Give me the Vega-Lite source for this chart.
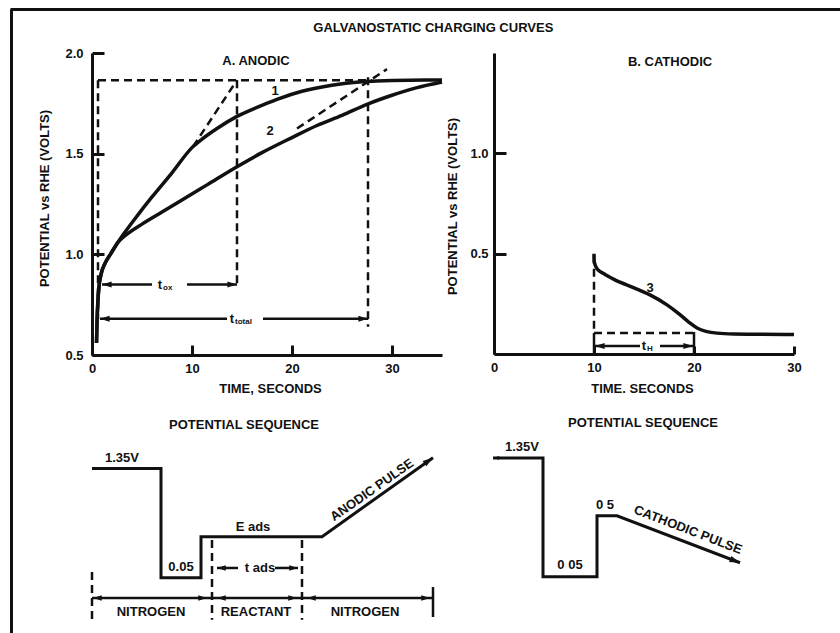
{
  "$schema": "https://vega.github.io/schema/vega-lite/v6.json",
  "width": 840,
  "height": 633,
  "autosize": {"type": "none"},
  "padding": 0,
  "background": "white",
  "config": {
    "view": {"stroke": null},
    "font": "Liberation Sans",
    "text": {"font": "Liberation Sans", "fontWeight": "bold", "fontSize": 13, "color": "#111"},
    "line": {"color": "#111"},
    "point": {"color": "#111"},
    "axis": {
      "domainColor": "#111", "tickColor": "#111", "labelColor": "#111", "titleColor": "#111",
      "labelFont": "Liberation Sans", "titleFont": "Liberation Sans",
      "labelFontWeight": "bold", "titleFontWeight": "bold",
      "labelFontSize": 13, "titleFontSize": 13,
      "grid": false, "domainWidth": 3, "tickWidth": 3, "labelFlush": false, "labelOverlap": false
    }
  },
  "datasets": {
    "frame": [{"label": "GALVANOSTATIC CHARGING CURVES", "fx": 0.51, "fy": 0.969}],
    "curvesA": [
      {"c": "1", "t": 0.45, "v": 0.56}, {"c": "1", "t": 0.5, "v": 0.66}, {"c": "1", "t": 0.58, "v": 0.76},
      {"c": "1", "t": 0.7, "v": 0.84}, {"c": "1", "t": 0.9, "v": 0.9}, {"c": "1", "t": 1.3, "v": 0.955},
      {"c": "1", "t": 1.9, "v": 1.005}, {"c": "1", "t": 2.6, "v": 1.06}, {"c": "1", "t": 3.3, "v": 1.11},
      {"c": "1", "t": 4.5, "v": 1.19}, {"c": "1", "t": 6, "v": 1.285}, {"c": "1", "t": 8, "v": 1.405},
      {"c": "1", "t": 10, "v": 1.53}, {"c": "1", "t": 11, "v": 1.572}, {"c": "1", "t": 12.5, "v": 1.625},
      {"c": "1", "t": 14.5, "v": 1.685}, {"c": "1", "t": 16.5, "v": 1.73}, {"c": "1", "t": 18.5, "v": 1.77},
      {"c": "1", "t": 21, "v": 1.81}, {"c": "1", "t": 24, "v": 1.84}, {"c": "1", "t": 27, "v": 1.857},
      {"c": "1", "t": 30, "v": 1.864}, {"c": "1", "t": 35, "v": 1.866},
      {"c": "2", "t": 0.45, "v": 0.56}, {"c": "2", "t": 0.5, "v": 0.66}, {"c": "2", "t": 0.58, "v": 0.76},
      {"c": "2", "t": 0.7, "v": 0.84}, {"c": "2", "t": 0.9, "v": 0.9}, {"c": "2", "t": 1.3, "v": 0.955},
      {"c": "2", "t": 1.9, "v": 1.005}, {"c": "2", "t": 2.6, "v": 1.06}, {"c": "2", "t": 3.5, "v": 1.1},
      {"c": "2", "t": 5, "v": 1.15}, {"c": "2", "t": 7, "v": 1.21}, {"c": "2", "t": 9, "v": 1.27},
      {"c": "2", "t": 11.5, "v": 1.345}, {"c": "2", "t": 14.5, "v": 1.435}, {"c": "2", "t": 17, "v": 1.505},
      {"c": "2", "t": 20, "v": 1.58}, {"c": "2", "t": 22.5, "v": 1.64}, {"c": "2", "t": 25, "v": 1.69},
      {"c": "2", "t": 27.5, "v": 1.745}, {"c": "2", "t": 30, "v": 1.79}, {"c": "2", "t": 32.5, "v": 1.828},
      {"c": "2", "t": 35, "v": 1.856}
    ],
    "dashA": [
      {"seg": "h", "t": 0.6, "v": 1.865}, {"seg": "h", "t": 28, "v": 1.865},
      {"seg": "v1", "t": 0.6, "v": 1.865}, {"seg": "v1", "t": 0.6, "v": 0.68},
      {"seg": "v2", "t": 14.5, "v": 1.865}, {"seg": "v2", "t": 14.5, "v": 0.84},
      {"seg": "v3", "t": 27.6, "v": 1.88}, {"seg": "v3", "t": 27.6, "v": 0.64},
      {"seg": "tan1", "t": 10.1, "v": 1.535}, {"seg": "tan1", "t": 14.5, "v": 1.865},
      {"seg": "tan2", "t": 20.5, "v": 1.625}, {"seg": "tan2", "t": 29.5, "v": 1.92}
    ],
    "arrA": [
      {"seg": "ox_l", "t": 1.0, "v": 0.85}, {"seg": "ox_l", "t": 6.0, "v": 0.85},
      {"seg": "ox_r", "t": 9.5, "v": 0.85}, {"seg": "ox_r", "t": 14.5, "v": 0.85},
      {"seg": "tot_l", "t": 0.8, "v": 0.68}, {"seg": "tot_l", "t": 13.5, "v": 0.68},
      {"seg": "tot_r", "t": 17.1, "v": 0.68}, {"seg": "tot_r", "t": 27.6, "v": 0.68}
    ],
    "headsA": [
      {"t": 1.0, "v": 0.85, "dir": "left"}, {"t": 14.5, "v": 0.85, "dir": "right"},
      {"t": 0.8, "v": 0.68, "dir": "left"}, {"t": 27.6, "v": 0.68, "dir": "right"}
    ],
    "labelsA": [
      {"t": 16.4, "v": 1.96, "label": "A. ANODIC"},
      {"t": 18.3, "v": 1.81, "label": "1"},
      {"t": 17.8, "v": 1.615, "label": "2"}
    ],
    "tA": [
      {"t": 6.8, "v": 0.85, "sub": "ox"},
      {"t": 14.0, "v": 0.68, "sub": "total"}
    ],
    "curveB": [
      {"t": 10, "v": 0.5}, {"t": 10.02, "v": 0.46}, {"t": 10.3, "v": 0.425}, {"t": 11, "v": 0.4},
      {"t": 12, "v": 0.372}, {"t": 14, "v": 0.33}, {"t": 15.5, "v": 0.297}, {"t": 17.3, "v": 0.245},
      {"t": 18.5, "v": 0.2}, {"t": 19.5, "v": 0.158}, {"t": 20.3, "v": 0.13}, {"t": 21.2, "v": 0.113},
      {"t": 22.3, "v": 0.104}, {"t": 24, "v": 0.1}, {"t": 30, "v": 0.097}
    ],
    "dashB": [
      {"seg": "v", "t": 10, "v": 0.49}, {"seg": "v", "t": 10, "v": 0.105},
      {"seg": "h", "t": 10, "v": 0.105}, {"seg": "h", "t": 20, "v": 0.105}
    ],
    "solidB": [
      {"seg": "a", "t": 10, "v": 0}, {"seg": "a", "t": 10, "v": 0.105},
      {"seg": "b", "t": 20, "v": 0}, {"seg": "b", "t": 20, "v": 0.11},
      {"seg": "l", "t": 10.1, "v": 0.04}, {"seg": "l", "t": 14.6, "v": 0.04},
      {"seg": "r", "t": 16.6, "v": 0.04}, {"seg": "r", "t": 19.9, "v": 0.04}
    ],
    "headsB": [
      {"t": 10.1, "v": 0.04, "dir": "left"}, {"t": 19.9, "v": 0.04, "dir": "right"}
    ],
    "labelsB": [
      {"t": 17.6, "v": 1.455, "label": "B. CATHODIC"},
      {"t": 15.6, "v": 0.33, "label": "3"}
    ],
    "tB": [{"t": 15.0, "v": 0.04, "sub": "H"}],
    "pathL": [
      {"i": 0, "x": 0, "y": 1.35}, {"i": 1, "x": 6.9, "y": 1.35}, {"i": 2, "x": 6.9, "y": 0.05},
      {"i": 3, "x": 10.9, "y": 0.05}, {"i": 4, "x": 10.9, "y": 0.54}, {"i": 5, "x": 23, "y": 0.54},
      {"i": 6, "x": 34.1, "y": 1.48}
    ],
    "dashL": [
      {"seg": "a", "x": 0, "y": 0.12}, {"seg": "a", "x": 0, "y": -0.45},
      {"seg": "b", "x": 12, "y": 0.5}, {"seg": "b", "x": 12, "y": -0.45},
      {"seg": "c", "x": 21, "y": 0.5}, {"seg": "c", "x": 21, "y": -0.45}
    ],
    "solidL": [
      {"seg": "end", "x": 34.1, "y": -0.06}, {"seg": "end", "x": 34.1, "y": -0.417},
      {"seg": "base", "x": 0, "y": -0.19}, {"seg": "base", "x": 34.1, "y": -0.19},
      {"seg": "ads_l", "x": 12.5, "y": 0.167}, {"seg": "ads_l", "x": 14.6, "y": 0.167},
      {"seg": "ads_r", "x": 18.3, "y": 0.167}, {"seg": "ads_r", "x": 20.6, "y": 0.167}
    ],
    "headsL": [
      {"x": 0.1, "y": -0.19, "dir": "left"}, {"x": 11.5, "y": -0.19, "dir": "right"},
      {"x": 12.5, "y": -0.19, "dir": "left"}, {"x": 20.5, "y": -0.19, "dir": "right"},
      {"x": 21.5, "y": -0.19, "dir": "left"}, {"x": 33.8, "y": -0.19, "dir": "right"},
      {"x": 12.5, "y": 0.167, "dir": "left"}, {"x": 20.6, "y": 0.167, "dir": "right"}
    ],
    "rampL": [{"x": 34.1, "y": 1.48}],
    "labelsL": [
      {"x": 15.2, "y": 1.87, "label": "POTENTIAL SEQUENCE"},
      {"x": 3.0, "y": 1.476, "label": "1.35V"},
      {"x": 8.9, "y": 0.179, "label": "0.05"},
      {"x": 16.1, "y": 0.655, "label": "E ads"},
      {"x": 16.8, "y": 0.167, "label": "t ads"},
      {"x": 5.9, "y": -0.357, "label": "NITROGEN"},
      {"x": 16.4, "y": -0.357, "label": "REACTANT"},
      {"x": 27.3, "y": -0.357, "label": "NITROGEN"}
    ],
    "labelsLrot": [{"x": 28, "y": 1.095, "label": "ANODIC PULSE"}],
    "pathR": [
      {"i": 0, "x": 0, "y": 1.35}, {"i": 1, "x": 5.0, "y": 1.35}, {"i": 2, "x": 5.0, "y": 0.05},
      {"i": 3, "x": 10.4, "y": 0.05}, {"i": 4, "x": 10.4, "y": 0.717}, {"i": 5, "x": 12.4, "y": 0.717},
      {"i": 6, "x": 24.7, "y": 0.203}
    ],
    "headsR": [{"x": 0, "y": 1.35, "dir": "left"}],
    "rampR": [{"x": 24.7, "y": 0.203}],
    "labelsR": [
      {"x": 15.0, "y": 1.733, "label": "POTENTIAL SEQUENCE"},
      {"x": 2.9, "y": 1.47, "label": "1.35V"},
      {"x": 7.7, "y": 0.18, "label": "0 05"},
      {"x": 11.2, "y": 0.837, "label": "0 5"}
    ],
    "labelsRrot": [{"x": 19.5, "y": 0.563, "label": "CATHODIC PULSE"}]
  },
  "layer": [
    {
      "data": {"name": "frame"},
      "mark": {"type": "text", "fontSize": 13, "fontWeight": "bold"},
      "encoding": {
        "x": {"field": "fx", "type": "quantitative", "scale": {"domain": [0, 1], "range": [10, 840], "nice": false, "zero": false},
              "axis": {"orient": "top", "offset": -9, "ticks": false, "labels": false, "title": null, "domainWidth": 3}},
        "y": {"field": "fy", "type": "quantitative", "scale": {"domain": [0, 1], "range": [633, 9], "nice": false, "zero": false},
              "axis": {"orient": "left", "offset": -11, "ticks": false, "labels": false, "title": null, "domainWidth": 3}},
        "text": {"field": "label"}
      }
    },
    {
      "encoding": {
        "x": {"field": "t", "type": "quantitative", "scale": {"domain": [0, 35], "range": [92, 442], "nice": false, "zero": false},
              "axis": {"orient": "bottom", "offset": -278, "values": [0, 10, 20, 30], "tickSize": -10, "labelPadding": 17,
                       "title": "TIME, SECONDS", "titleX": 270, "titleY": 33, "titleAlign": "center", "titleBaseline": "middle"}},
        "y": {"field": "v", "type": "quantitative", "scale": {"domain": [0.5, 2], "range": [355, 53], "nice": false, "zero": false},
              "axis": {"orient": "left", "offset": -92, "values": [0.5, 1, 1.5, 2], "format": ".1f", "tickSize": -12, "labelPadding": 21,
                       "title": "POTENTIAL vs RHE (VOLTS)", "titleX": -48, "titleY": 198, "titleAngle": 270, "titleAlign": "center", "titleBaseline": "middle"}}
      },
      "layer": [
        {"data": {"name": "curvesA"}, "mark": {"type": "line", "strokeWidth": 3.5, "interpolate": "monotone"}, "encoding": {"detail": {"field": "c"}}},
        {"data": {"name": "dashA"}, "mark": {"type": "line", "strokeWidth": 2.5, "strokeDash": [8, 5]}, "encoding": {"detail": {"field": "seg"}}},
        {"data": {"name": "arrA"}, "mark": {"type": "line", "strokeWidth": 2.5}, "encoding": {"detail": {"field": "seg"}}},
        {"data": {"name": "headsA"}, "mark": {"type": "point", "filled": true, "opacity": 1, "size": 144},
         "encoding": {"shape": {"field": "dir", "type": "nominal", "scale": {"domain": ["left", "right"], "range": ["M0,0L1.6,-0.5L1.6,0.5Z", "M0,0L-1.6,-0.5L-1.6,0.5Z"]}, "legend": null}}},
        {"data": {"name": "labelsA"}, "mark": {"type": "text"}, "encoding": {"text": {"field": "label"}}},
        {"data": {"name": "tA"}, "mark": {"type": "text", "text": "t"}},
        {"data": {"name": "tA"}, "mark": {"type": "text", "fontSize": 8, "align": "left", "dx": 3, "dy": 3}, "encoding": {"text": {"field": "sub"}}}
      ]
    },
    {
      "encoding": {
        "x": {"field": "t", "type": "quantitative", "scale": {"domain": [0, 30], "range": [494, 794], "nice": false, "zero": false},
              "axis": {"orient": "bottom", "offset": -279, "values": [0, 10, 20, 30], "tickSize": -8, "labelPadding": 15,
                       "title": "TIME. SECONDS", "titleX": 642, "titleY": 34, "titleAlign": "center", "titleBaseline": "middle"}},
        "y": {"field": "v", "type": "quantitative", "scale": {"domain": [0, 1.5], "range": [354, 53], "nice": false, "zero": false},
              "axis": {"orient": "left", "offset": -494, "values": [0.5, 1], "format": ".1f", "tickSize": -12, "labelPadding": 18,
                       "title": "POTENTIAL vs RHE (VOLTS)", "titleX": -42, "titleY": 206, "titleAngle": 270, "titleAlign": "center", "titleBaseline": "middle"}}
      },
      "layer": [
        {"data": {"name": "curveB"}, "mark": {"type": "line", "strokeWidth": 3.5, "interpolate": "monotone"}},
        {"data": {"name": "dashB"}, "mark": {"type": "line", "strokeWidth": 2.5, "strokeDash": [8, 5]}, "encoding": {"detail": {"field": "seg"}}},
        {"data": {"name": "solidB"}, "mark": {"type": "line", "strokeWidth": 2.5}, "encoding": {"detail": {"field": "seg"}}},
        {"data": {"name": "headsB"}, "mark": {"type": "point", "filled": true, "opacity": 1, "size": 144},
         "encoding": {"shape": {"field": "dir", "type": "nominal", "scale": {"domain": ["left", "right"], "range": ["M0,0L1.6,-0.5L1.6,0.5Z", "M0,0L-1.6,-0.5L-1.6,0.5Z"]}, "legend": null}}},
        {"data": {"name": "labelsB"}, "mark": {"type": "text"}, "encoding": {"text": {"field": "label"}}},
        {"data": {"name": "tB"}, "mark": {"type": "text", "text": "t"}},
        {"data": {"name": "tB"}, "mark": {"type": "text", "fontSize": 8, "align": "left", "dx": 3, "dy": 3}, "encoding": {"text": {"field": "sub"}}}
      ]
    },
    {
      "encoding": {
        "x": {"field": "x", "type": "quantitative", "scale": {"domain": [0, 34.1], "range": [92, 433], "nice": false, "zero": false}, "axis": null},
        "y": {"field": "y", "type": "quantitative", "scale": {"domain": [-0.5, 2], "range": [624, 414], "nice": false, "zero": false}, "axis": null}
      },
      "layer": [
        {"data": {"name": "pathL"}, "mark": {"type": "line", "strokeWidth": 3}, "encoding": {"order": {"field": "i", "type": "quantitative"}}},
        {"data": {"name": "dashL"}, "mark": {"type": "line", "strokeWidth": 2.5, "strokeDash": [8, 5]}, "encoding": {"detail": {"field": "seg"}}},
        {"data": {"name": "solidL"}, "mark": {"type": "line", "strokeWidth": 2.5}, "encoding": {"detail": {"field": "seg"}}},
        {"data": {"name": "headsL"}, "mark": {"type": "point", "filled": true, "opacity": 1, "size": 120},
         "encoding": {"shape": {"field": "dir", "type": "nominal", "scale": {"domain": ["left", "right"], "range": ["M0,0L1.6,-0.5L1.6,0.5Z", "M0,0L-1.6,-0.5L-1.6,0.5Z"]}, "legend": null}}},
        {"data": {"name": "rampL"}, "mark": {"type": "point", "filled": true, "opacity": 1, "size": 170, "shape": "M0,0L-1.6,-0.5L-1.6,0.5Z", "angle": -35}},
        {"data": {"name": "labelsL"}, "mark": {"type": "text"}, "encoding": {"text": {"field": "label"}}},
        {"data": {"name": "labelsLrot"}, "mark": {"type": "text", "angle": -35}, "encoding": {"text": {"field": "label"}}}
      ]
    },
    {
      "encoding": {
        "x": {"field": "x", "type": "quantitative", "scale": {"domain": [0, 24.7], "range": [493, 740], "nice": false, "zero": false}, "axis": null},
        "y": {"field": "y", "type": "quantitative", "scale": {"domain": [-0.5, 2], "range": [627, 398.5], "nice": false, "zero": false}, "axis": null}
      },
      "layer": [
        {"data": {"name": "pathR"}, "mark": {"type": "line", "strokeWidth": 3}, "encoding": {"order": {"field": "i", "type": "quantitative"}}},
        {"data": {"name": "headsR"}, "mark": {"type": "point", "filled": true, "opacity": 1, "size": 60},
         "encoding": {"shape": {"field": "dir", "type": "nominal", "scale": {"domain": ["left", "right"], "range": ["M0,0L1.6,-0.5L1.6,0.5Z", "M0,0L-1.6,-0.5L-1.6,0.5Z"]}, "legend": null}}},
        {"data": {"name": "rampR"}, "mark": {"type": "point", "filled": true, "opacity": 1, "size": 170, "shape": "M0,0L-1.6,-0.5L-1.6,0.5Z", "angle": 21}},
        {"data": {"name": "labelsR"}, "mark": {"type": "text"}, "encoding": {"text": {"field": "label"}}},
        {"data": {"name": "labelsRrot"}, "mark": {"type": "text", "angle": 21}, "encoding": {"text": {"field": "label"}}}
      ]
    }
  ],
  "resolve": {
    "scale": {"x": "independent", "y": "independent", "shape": "independent"},
    "axis": {"x": "independent", "y": "independent"}
  }
}
